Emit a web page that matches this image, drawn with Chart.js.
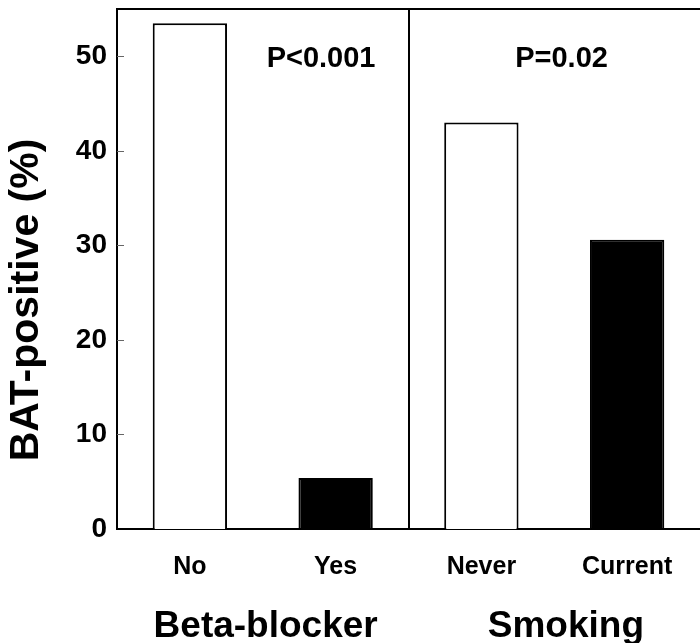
<!DOCTYPE html>
<html><head><meta charset="utf-8">
<script src="https://cdn.jsdelivr.net/npm/chart.js@4/dist/chart.umd.min.js"></script>
<style>html,body{margin:0;padding:0;background:#fff}#wrap{width:700px;height:643px;position:relative}</style>
</head><body><div id="wrap"><canvas id="c"></canvas></div>
<script>
const categories = ["No", "Yes", "Never", "Current"];
const values = [53.5, 5.4, 43.0, 30.6];
const barColors = ["#ffffff", "#000000", "#ffffff", "#000000"];
const groupLabels = ["Beta-blocker", "Smoking"];
const groupPos = [0.52, 2.58];
const pLabels = ["P<0.001", "P=0.02"];
const pPos = [0.9, 2.55];
const pValueY = 49.7;
const yTicks = [0, 10, 20, 30, 40, 50];
const yTitle = "BAT-positive (%)";
const FONT = "'Liberation Sans', Arial, sans-serif";

const overlay = {
  id: 'overlay',
  afterDraw(chart) {
    const ctx = chart.ctx, a = chart.chartArea;
    const xs = chart.scales.x, ys = chart.scales.y;
    ctx.save();
    ctx.strokeStyle = '#000';
    ctx.lineWidth = 2;
    // top border
    ctx.beginPath(); ctx.moveTo(a.left, a.top); ctx.lineTo(a.right, a.top); ctx.stroke();
    // divider between groups
    const dx = Math.round(xs.getPixelForValue(1.5));
    ctx.beginPath(); ctx.moveTo(dx, a.top); ctx.lineTo(dx, a.bottom); ctx.stroke();
    // inner tick marks
    ctx.strokeStyle = '#666'; ctx.lineWidth = 1;
    yTicks.forEach(v => {
      if (v === 0) return;
      const y = Math.round(ys.getPixelForValue(v)) + 0.5;
      ctx.beginPath(); ctx.moveTo(a.left, y); ctx.lineTo(a.left + 7, y); ctx.stroke();
    });
    ctx.fillStyle = '#000';
    // p-values
    ctx.font = 'bold 29px ' + FONT;
    ctx.textAlign = 'center'; ctx.textBaseline = 'middle';
    pLabels.forEach((t, i) => ctx.fillText(t, xs.getPixelForValue(pPos[i]), ys.getPixelForValue(pValueY)));
    // group labels
    ctx.font = 'bold 37px ' + FONT;
    ctx.textBaseline = 'alphabetic';
    groupLabels.forEach((t, i) => ctx.fillText(t, xs.getPixelForValue(groupPos[i]), a.bottom + 108));
    // y title
    ctx.translate(27, (a.top + a.bottom) / 2 + 31);
    ctx.rotate(-Math.PI / 2);
    ctx.font = 'bold 41px ' + FONT;
    ctx.textBaseline = 'middle';
    ctx.fillText(yTitle, 0, 0);
    ctx.restore();
  }
};

new Chart(document.getElementById('c'), {
  type: 'bar',
  data: {
    labels: categories,
    datasets: [{
      data: values,
      backgroundColor: barColors,
      borderColor: '#000',
      borderWidth: 2,
      borderSkipped: 'bottom',
      categoryPercentage: 1,
      barPercentage: 0.51
    }]
  },
  options: {
    responsive: true,
    maintainAspectRatio: false,
    animation: false,
    devicePixelRatio: 1,
    layout: { padding: { top: 9, right: 0, left: 0, bottom: 0 } },
    plugins: { legend: { display: false }, tooltip: { enabled: false } },
    scales: {
      x: {
        grid: { display: false, drawTicks: false },
        border: { display: true, color: '#000', width: 2 },
        ticks: { color: '#000', font: { family: FONT, size: 25, weight: 'bold' }, padding: 23, maxRotation: 0 },
        afterFit(s) { s.height = 114; s.paddingLeft = 0; s.paddingRight = 0; }
      },
      y: {
        min: 0, max: 55,
        grid: { display: false, drawTicks: false },
        border: { display: true, color: '#000', width: 2 },
        ticks: { stepSize: 10, color: '#000', font: { family: FONT, size: 28, weight: 'bold' }, padding: 10 },
        afterBuildTicks(s) { s.ticks = yTicks.map(v => ({ value: v })); },
        afterFit(s) { s.width = 117; s.paddingTop = 0; s.paddingBottom = 0; }
      }
    }
  },
  plugins: [overlay]
});
</script>
</body></html>
